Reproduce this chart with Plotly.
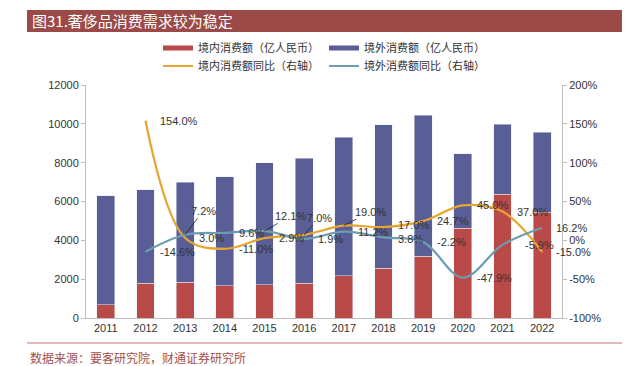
import plotly.graph_objects as go

years = ["2011", "2012", "2013", "2014", "2015", "2016", "2017", "2018", "2019", "2020", "2021", "2022"]
domestic = [680, 1780, 1850, 1650, 1700, 1800, 2180, 2570, 3190, 4630, 6380, 5440]
overseas = [5610, 4820, 5150, 5630, 6300, 6440, 7120, 7380, 7250, 3830, 3590, 4120]
dom_yoy_years = years[1:]
dom_yoy = [154.0, 3.0, -11.0, 2.9, 7.0, 19.0, 17.0, 24.7, 45.0, 37.0, -15.0]
out_yoy_years = years[1:]
out_yoy = [-14.6, 7.2, 9.6, 12.1, 1.9, 11.2, 3.8, -2.2, -47.9, -5.9, 16.2]
left_ticks = [0, 2000, 4000, 6000, 8000, 10000, 12000]
right_ticks = [-100, -50, 0, 50, 100, 150, 200]
right_tick_text = ["-100%", "-50%", "0%", "50%", "100%", "150%", "200%"]

names = ["境内消费额（亿人民币）", "境外消费额（亿人民币）", "境内消费额同比（右轴）", "境外消费额同比（右轴）"]
title = "图31.奢侈品消费需求较为稳定"
source = "数据来源：要客研究院，财通证券研究所"

RED = "#B94A48"
BLUE = "#5A5E96"
ORANGE = "#E6A530"
TEAL = "#6B9EB2"
TXT = "#333333"
FONT = "Liberation Sans, Noto Sans CJK SC, sans-serif"

fig = go.Figure()
fig.add_trace(go.Bar(x=years, y=domestic, marker_color=RED, showlegend=False, name=names[0]))
fig.add_trace(go.Bar(x=years, y=overseas, marker_color=BLUE, showlegend=False, name=names[1]))
fig.add_trace(go.Scatter(x=dom_yoy_years, y=dom_yoy, yaxis="y2", mode="lines",
                         line=dict(color=ORANGE, width=2.2, shape="spline", smoothing=1),
                         showlegend=False, name=names[2]))
fig.add_trace(go.Scatter(x=out_yoy_years, y=out_yoy, yaxis="y2", mode="lines",
                         line=dict(color=TEAL, width=2.2, shape="spline", smoothing=1),
                         showlegend=False, name=names[3]))

# legend-only entries
fig.add_trace(go.Scatter(x=[years[0]], y=[None], mode="lines", line=dict(color=RED, width=5),
                         name=names[0], legend="legend", hoverinfo="skip"))
fig.add_trace(go.Scatter(x=[years[0]], y=[None], mode="lines", line=dict(color=BLUE, width=5),
                         name=names[1], legend="legend", hoverinfo="skip"))
fig.add_trace(go.Scatter(x=[years[0]], y=[None], mode="lines", line=dict(color=ORANGE, width=2),
                         name=names[2], legend="legend2", hoverinfo="skip"))
fig.add_trace(go.Scatter(x=[years[0]], y=[None], mode="lines", line=dict(color=TEAL, width=2),
                         name=names[3], legend="legend2", hoverinfo="skip"))

# label placement: (xshift, yshift) or leader arrows (ax, ay)
dom_style = {
    "2016": ("arrow", 15, -17),
    "2017": ("arrow", 27, -14),
    "2018": ("shift", 12, 2),
}
out_style = {
    "2013": ("arrow", 18, -24),
    "2015": ("arrow", 26, -15),
    "2018": ("shift", 12, -2),
    "2021": ("shift", 20, 0),
}

annotations = []
def add_labels(xs, vals, style):
    for xv, v in zip(xs, vals):
        txt = f"{v:.1f}%"
        xi = years.index(xv)
        st = style.get(xv, ("shift", 12, 0))
        if st[0] == "arrow":
            annotations.append(dict(x=xi, y=v, xref="x", yref="y2", text=txt, showarrow=True,
                                    ax=st[1], ay=st[2], arrowhead=0, arrowwidth=0.8,
                                    arrowcolor="#222222", standoff=0,
                                    font=dict(size=11, color=TXT, family=FONT)))
        else:
            annotations.append(dict(x=xi, y=v, xref="x", yref="y2", text=txt, showarrow=False,
                                    xanchor="left", yanchor="middle", xshift=st[1], yshift=st[2],
                                    font=dict(size=11, color=TXT, family=FONT)))

add_labels(dom_yoy_years, dom_yoy, dom_style)
add_labels(out_yoy_years, out_yoy, out_style)

# title and source
annotations.append(dict(x=-0.1176, y=1.2747, xref="paper", yref="paper", text=title, showarrow=False,
                        xanchor="left", yanchor="middle",
                        font=dict(size=15, color="white", family="Noto Sans CJK SC")))
annotations.append(dict(x=-0.1218, y=-0.1674, xref="paper", yref="paper", text=source, showarrow=False,
                        xanchor="left", yanchor="middle",
                        font=dict(size=12, color="#A5504C", family="Noto Sans CJK SC")))

shapes = [
    dict(type="rect", xref="paper", yref="paper", x0=-0.124, x1=1.126, y0=1.2275, y1=1.3219,
         fillcolor="#9C4A47", line=dict(width=0), layer="below"),
    dict(type="line", xref="paper", yref="paper", x0=-0.124, x1=1.126, y0=-0.1073, y1=-0.1073,
         line=dict(color="#D9A3A3", width=1.5)),
]

fig.update_layout(
    width=629, height=366,
    margin=dict(l=86, r=67, t=85, b=48),
    paper_bgcolor="white", plot_bgcolor="white",
    barmode="stack", bargap=0.55,
    font=dict(family=FONT, size=11, color=TXT),
    xaxis=dict(type="category", categoryorder="array", categoryarray=years,
               range=[-0.5, len(years) - 0.5], showline=True, linecolor="#BFBFBF", linewidth=1,
               ticks="", showgrid=False, tickfont=dict(size=11, color=TXT)),
    yaxis=dict(range=[0, 12000], tickvals=left_ticks, tickformat="d", showline=True,
               linecolor="#BFBFBF", linewidth=1, ticks="outside", ticklen=4,
               tickcolor="#BFBFBF", showgrid=False, zeroline=False,
               tickfont=dict(size=11, color=TXT)),
    yaxis2=dict(range=[-100, 200], overlaying="y", side="right", tickvals=right_ticks,
                ticktext=right_tick_text, showline=True, linecolor="#BFBFBF", linewidth=1,
                ticks="outside", ticklen=4, tickcolor="#BFBFBF", showgrid=False, zeroline=False,
                tickfont=dict(size=11, color=TXT)),
    legend=dict(orientation="h", x=0.5, xanchor="center", y=1.1588, yanchor="middle",
                traceorder="normal",
                font=dict(size=11, color=TXT, family=FONT), bgcolor="rgba(0,0,0,0)"),
    legend2=dict(orientation="h", x=0.5, xanchor="center", y=1.0815, yanchor="middle",
                 traceorder="normal",
                 font=dict(size=11, color=TXT, family=FONT), bgcolor="rgba(0,0,0,0)"),
    annotations=annotations,
    shapes=shapes,
)

fig.write_html("out.html", config={"displayModeBar": False},
               post_script="document.body.style.margin='0';")
